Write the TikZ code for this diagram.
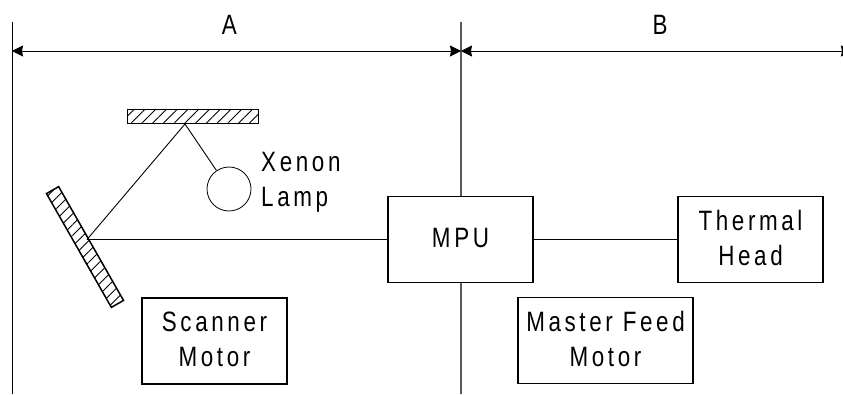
\documentclass[tikz,border=0pt]{standalone}
\usepackage{fontspec}
\setmainfont[LetterSpace=13, FakeStretch=0.8]{Liberation Sans}
\usetikzlibrary{positioning, arrows.meta, patterns.meta}

\begin{document}
\begin{tikzpicture}[
  x=1pt, y=-1pt,
  unit/.style={draw, line width=1.6pt, minimum height=86pt, align=center, inner sep=0pt,
               text depth=4pt, font=\fontsize{28}{35}\selectfont},
  lbl/.style={font=\fontsize{28}{35}\selectfont, inner sep=0pt, align=left},
  mirror/.style={draw, line width=1.5pt, minimum width=131pt, minimum height=14pt, inner sep=0pt,
                 pattern={Lines[angle=45, distance=7.6pt, line width=0.8pt]}},
  lamp/.style={draw, circle, line width=0.8pt, minimum size=44pt, inner sep=0pt},
  ray/.style={line width=0.9pt},
  dim/.style={{Stealth[length=11pt, width=11pt, inset=1pt]}-{Stealth[length=11pt, width=11pt, inset=1pt]}, line width=1pt},
  sep/.style={line width=1pt},
  mid/.style={line width=1.4pt, black!65},
]
\useasboundingbox (0,0) rectangle (843,394);

% === Section limits ===
\coordinate (t1) at (12,22);
\coordinate (b1) at (12,394);
\coordinate (t2) at (461,22);
\coordinate (b2) at (461,394);
\coordinate (a1) at (12,51);
\coordinate (a2) at (461,51);
\coordinate (a3) at (852,51);

\draw[sep] (t1) -- (b1);
\draw[mid] (t2) -- (b2);
\draw[dim] (a1) -- node[pos=0.484, yshift=26pt, lbl] (la) {A} (a2);
\draw[dim] (a2) -- node[pos=0.509, yshift=26pt, lbl] (lb) {B} (a3);

% === Optics ===
\node[mirror] (m1) at (193,116.5) {};
\node[mirror, rotate=-60.3] (m2) at (85,247) {};
\node[lamp] (l1) at (229,189) {};
\node[lbl, anchor=west] (l2) at (261,182) {Xenon\\Lamp};
\coordinate (h1) at (185,124);
\coordinate (h2) at (87,239.5);

% === Boxes ===
\node[unit, fill=white, minimum width=145pt] (u1) at (460.5,239.5) {MPU};
\node[unit, minimum width=145pt] (u2) at (214.5,341) {Scanner\\Motor};
\node[unit, minimum width=175pt] (u3) at (605.5,340.5) {Master Feed\\Motor};
\node[unit, minimum width=145pt] (u4) at (750.5,239.5) {Thermal\\Head};

% === Connections ===
\draw[ray] (h1) -- (h2);
\draw[ray] (h1) -- (l1);
\draw[ray] (h2) -- (u1.west);
\draw[ray] (u1.east) -- (u4.west);

\end{tikzpicture}
\end{document}
